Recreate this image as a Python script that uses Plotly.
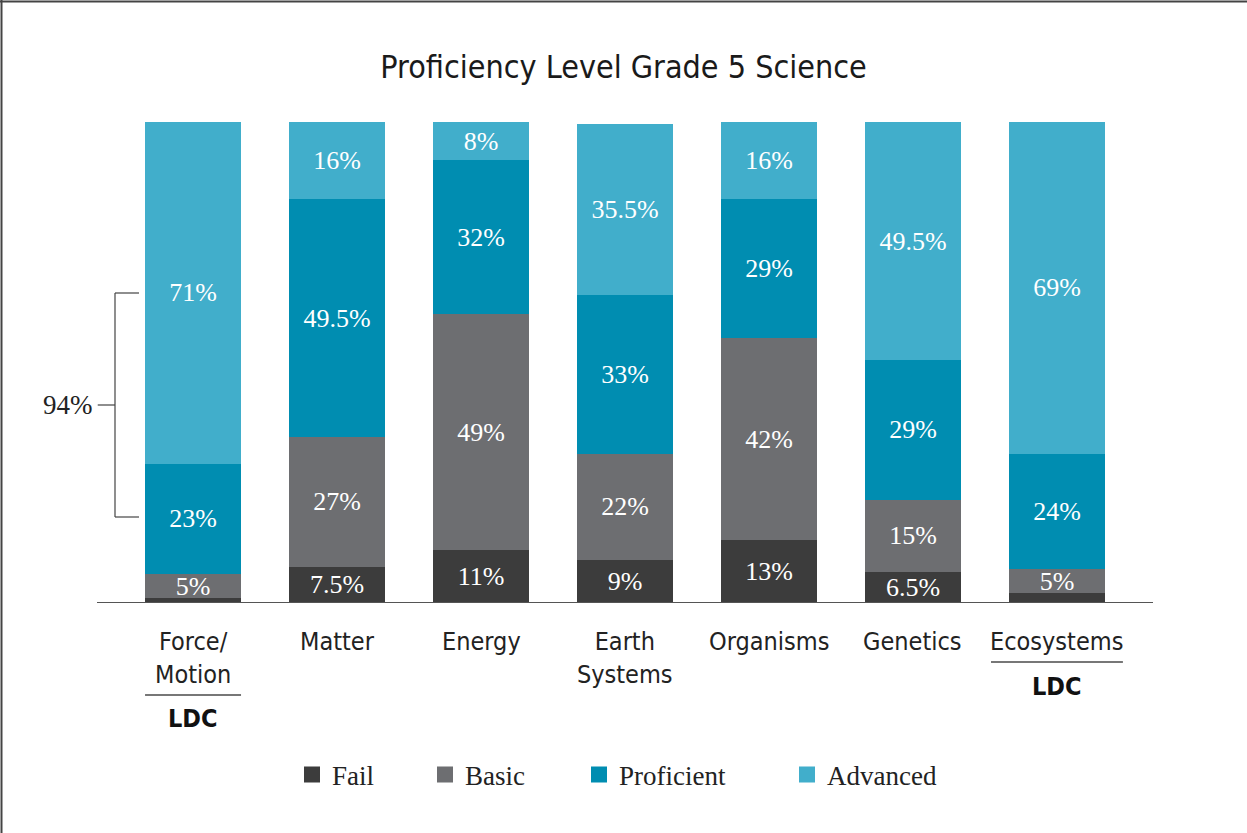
import plotly.graph_objects as go

categories = ["Force/Motion", "Matter", "Energy", "Earth Systems", "Organisms", "Genetics", "Ecosystems"]
tick_labels = ["Force/<br>Motion", "Matter", "Energy", "Earth<br>Systems", "Organisms", "Genetics", "Ecosystems"]
fail = [1, 7.5, 11, 9, 13, 6.5, 2]
basic = [5, 27, 49, 22, 42, 15, 5]
proficient = [23, 49.5, 32, 33, 29, 29, 24]
advanced = [71, 16, 8, 35.5, 16, 49.5, 69]
series_names = ["Fail", "Basic", "Proficient", "Advanced"]
colors = ["#3c3c3c", "#6d6e71", "#008db1", "#41aecb"]
ldc_categories = ["Force/Motion", "Ecosystems"]
bracket_label = "94%"

SERIF = "Liberation Serif, DejaVu Serif, serif"
NARROW = "Liberation Sans Narrow, DejaVu Sans Condensed, Roboto, sans-serif"

# plot area pixel geometry
L, R, T, B = 97, 1153, 122, 603
W, H = R - L, B - T

def py(p):
    return (B - p) / H

def px(p):
    return (p - L) / W

legend_text_starts = [333, 466, 620, 828]
legend_ids = ["legend", "legend2", "legend3", "legend4"]

fig = go.Figure()
xs = list(range(len(categories)))
for name, vals, col, lid in zip(series_names, [fail, basic, proficient, advanced], colors, legend_ids):
    txt = [f"{v:g}%" if v >= 5 else "" for v in vals]
    fig.add_trace(go.Bar(
        x=xs, y=vals, name=name, marker=dict(color=col, line=dict(width=0)),
        text=txt, textposition="inside", insidetextanchor="middle",
        textfont=dict(family=SERIF, size=26, color="white"),
        showlegend=False, hoverinfo="skip",
    ))
    fig.add_trace(go.Scatter(
        x=[None], y=[None], mode="markers", name=name, legend=lid,
        marker=dict(symbol="square", size=17, color=col),
    ))

annotations = []
for i, lab in enumerate(tick_labels):
    annotations.append(dict(
        x=i, y=py(625), xref="x", yref="paper", text=lab, showarrow=False,
        xanchor="center", yanchor="top",
        font=dict(family=NARROW, size=25, color="#222"),
    ))

shapes = []
ldc_layout = {"Force/Motion": (695, 718, 0.3333), "Ecosystems": (662, 686, 0.458)}
for c in ldc_categories:
    i = categories.index(c)
    ly, ty, hw = ldc_layout[c]
    shapes.append(dict(type="line", xref="x", yref="paper", x0=i - hw, x1=i + hw,
                       y0=py(ly), y1=py(ly), line=dict(color="#777", width=2)))
    annotations.append(dict(
        x=i, y=py(ty), xref="x", yref="paper", text="<b>LDC</b>", showarrow=False,
        xanchor="center", yanchor="middle",
        font=dict(family=NARROW, size=25, color="#111"),
    ))

# bracket
bx0, bx1, bxl = -0.542, -0.375, -0.667
ytop, ybot = (B - 293) / H * 100, (B - 517) / H * 100
ymid = (ytop + ybot) / 2
for s in [
    dict(x0=bx0, x1=bx0, y0=ybot, y1=ytop),
    dict(x0=bx0, x1=bx1, y0=ytop, y1=ytop),
    dict(x0=bx0, x1=bx1, y0=ybot, y1=ybot),
    dict(x0=bxl + 0.005, x1=bx0, y0=ymid, y1=ymid),
]:
    shapes.append(dict(type="line", xref="x", yref="y", line=dict(color="#444", width=1.2), **s))
annotations.append(dict(
    x=bxl, y=ymid, xref="x", yref="y", text=bracket_label, showarrow=False,
    xanchor="right", yanchor="middle", xshift=-2,
    font=dict(family=SERIF, size=27, color="#222"),
))

# baseline
shapes.append(dict(type="line", xref="paper", yref="y", x0=0, x1=1, y0=0, y1=0,
                   line=dict(color="#555", width=2)))
# frame (top and left)
shapes.append(dict(type="line", xref="paper", yref="paper", x0=px(0), x1=px(1247),
                   y0=py(1.5), y1=py(1.5), line=dict(color="#444", width=2)))
shapes.append(dict(type="line", xref="paper", yref="paper", x0=px(1.5), x1=px(1.5),
                   y0=py(0), y1=py(833), line=dict(color="#444", width=2)))

legend_layouts = {}
for lid, ts in zip(legend_ids, legend_text_starts):
    legend_layouts[lid] = dict(
        orientation="h", x=px(ts - 41), xanchor="left", y=py(775), yanchor="middle",
        font=dict(family=SERIF, size=27, color="#222"), bgcolor="rgba(0,0,0,0)",
        itemclick=False, itemdoubleclick=False,
    )

fig.update_layout(
    width=1247, height=833,
    barmode="stack", bargap=1 - 96 / 144,
    paper_bgcolor="white", plot_bgcolor="white",
    margin=dict(l=L, r=1247 - R, t=T, b=833 - B, pad=0),
    title=dict(text="Proficiency Level Grade 5 Science", x=0.5, xanchor="center",
               y=1 - 67 / 833, yanchor="middle",
               font=dict(family=NARROW, size=32, color="#1a1a1a")),
    xaxis=dict(range=[-0.667, 6.667], showticklabels=False, showgrid=False, zeroline=False,
               showline=False, ticks="", fixedrange=True),
    yaxis=dict(range=[0, 100], showticklabels=False, showgrid=False, zeroline=False,
               showline=False, ticks="", fixedrange=True),
    uniformtext=dict(minsize=26, mode="show"),
    annotations=annotations, shapes=shapes,
    **legend_layouts,
)

fig.write_html("out.html", config={"displayModeBar": False},
               post_script="document.body.style.margin='0';")
